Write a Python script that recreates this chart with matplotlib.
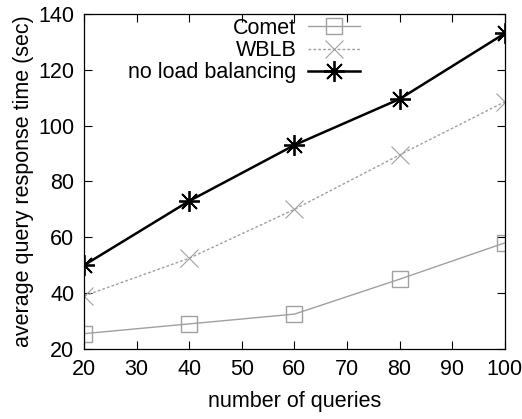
import matplotlib
matplotlib.use("Agg")
import matplotlib.pyplot as plt

queries = [20, 40, 60, 80, 100]
comet = [25.5, 29, 32.5, 45, 58]
wblb = [39, 52.5, 70, 89.5, 108.5]
noLB = [50, 73, 93, 109.5, 133]

plt.rcParams["font.family"] = ["Liberation Sans", "DejaVu Sans"]
plt.rcParams["font.size"] = 15.5

fig = plt.figure(figsize=(5.22, 4.19), dpi=100)
ax = fig.add_axes([0.161, 0.167, 0.806, 0.800])

ax.plot(queries, comet, color="#a0a0a0", lw=1, marker="s", ms=12,
        mfc="none", mec="#a0a0a0", mew=1, label="Comet")
ax.plot(queries, wblb, color="#a0a0a0", lw=1, ls=(0, (2, 1.5)), marker="x", ms=13,
        mec="#a0a0a0", mew=0.8, label="WBLB")
ax.plot(queries, noLB, color="black", lw=1.8, marker=(8, 2, 0), ms=15,
        mec="black", mew=1.3, label="no load balancing")

ax.set_xlim(20, 100)
ax.set_ylim(20, 140)
ax.set_xticks(range(20, 101, 10))
ax.set_yticks(range(20, 141, 20))
ax.tick_params(direction="in", top=True, right=True, length=6, width=0.8, pad=7)
for s in ax.spines.values():
    s.set_linewidth(0.9)

ax.set_xlabel("number of queries", labelpad=8)
ax.set_ylabel("average query response time (sec)", labelpad=3)

ax.legend(loc="upper right", bbox_to_anchor=(360 / 522, 1 - 18 / 419),
          bbox_transform=fig.transFigure, frameon=False, markerfirst=False,
          handlelength=2.4, handletextpad=0.55, labelspacing=0.05, borderaxespad=0,
          borderpad=0)

fig.savefig("out.png", dpi=100)
